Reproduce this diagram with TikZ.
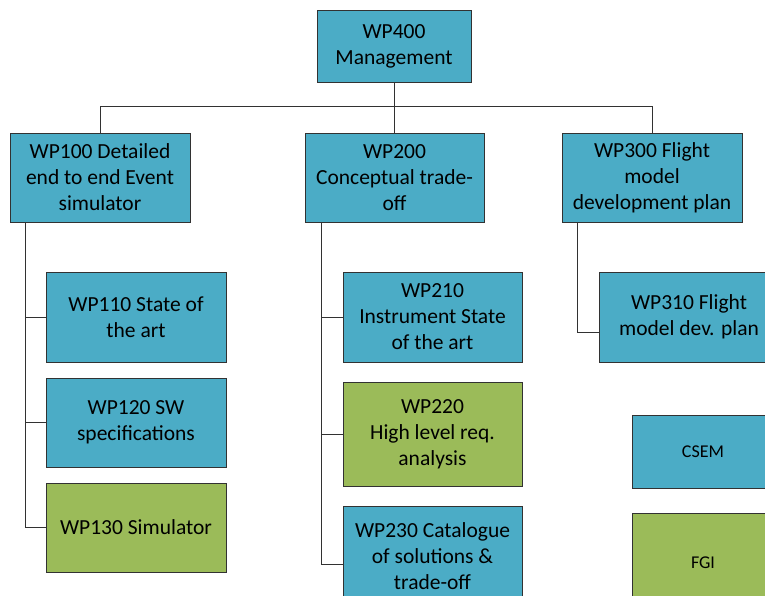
\documentclass[tikz,border=0pt]{standalone}
\usepackage{fontspec}
\setmainfont{Carlito}
\usetikzlibrary{positioning, calc}
\definecolor{CsemColor}{RGB}{75,172,198}
\definecolor{FgiColor}{RGB}{155,187,89}
\definecolor{EdgeColor}{RGB}{50,50,50}

\begin{document}
\begin{tikzpicture}[
    x=1pt, y=-1pt,
    every node/.style={font=\fontsize{21.5}{26}\selectfont},
    wpbox/.style={rectangle, draw=EdgeColor, line width=0.9pt, fill=CsemColor, minimum width=180pt, minimum height=89pt, inner sep=0pt, align=center},
    fgibox/.style={wpbox, fill=FgiColor},
    legend/.style={wpbox, minimum width=142pt, font=\fontsize{18}{21}\selectfont},
    link/.style={draw=EdgeColor, line width=0.8pt},
]

\useasboundingbox (0,0) rectangle (765,595);
\clip (0,0) rectangle (765,595);

% Top level
\node[wpbox, minimum width=154pt, minimum height=72pt] (wp400) at (394, 46) {WP400\\Management};

% Second level
\node[wpbox] (wp100) at (100, 177.5) {WP100 Detailed\\end to end Event\\simulator};
\node[wpbox, minimum width=179pt] (wp200) at (394.5, 177.5) {WP200\\Conceptual trade-\\off};
\node[wpbox] (wp300) at (652, 177.5) {WP300 Flight\\model\\development plan};

% Work packages under WP100
\node[wpbox, minimum height=90pt] (wp110) at (136, 317) {WP110 State of\\the art};
\node[wpbox] (wp120) at (136, 422.5) {WP120 SW\\specifications};
\node[fgibox] (wp130) at (136, 527.5) {WP130 Simulator};

% Work packages under WP200
\node[wpbox, minimum width=179pt, minimum height=90pt] (wp210) at (432.5, 317) {WP210\\Instrument State\\of the art};
\node[fgibox, minimum width=179pt, minimum height=104pt] (wp220) at (432.5, 434) {WP220\\High level req.\\analysis};
\node[wpbox, minimum width=179pt, minimum height=100pt] (wp230) at (432.5, 556) {WP230 Catalogue\\of solutions \&\\trade-off};

% Work package under WP300
\node[wpbox, minimum height=90pt] (wp310) at (689, 317) {WP310 Flight\\model dev. plan};

% Legend
\node[legend, minimum height=73pt] (csem) at (703, 451.5) {CSEM};
\node[legend, fill=FgiColor, minimum height=100pt] (fgi) at (703, 563) {FGI};

% Bus from management
\draw[link] (wp400.south) -- ++(0,24) -| (wp100.north);
\draw[link] (wp400.south) -- ++(0,24) -| (wp200.north);
\draw[link] (wp400.south) -- ++(0,24) -| (wp300.north);

% Side branches
\coordinate (b100) at ([xshift=16pt]wp100.south west);
\coordinate (b200) at ([xshift=17pt]wp200.south west);
\coordinate (b300) at ([xshift=16pt]wp300.south west);

\foreach \w in {wp110, wp120, wp130} {
    \draw[link] (b100) |- (\w.west);
}
\foreach \w in {wp210, wp220} {
    \draw[link] (b200) |- (\w.west);
}
\draw[link] (b200) |- ([yshift=-8pt]wp230.west);
\draw[link] (b300) |- ([yshift=-15pt]wp310.west);

\end{tikzpicture}
\end{document}
